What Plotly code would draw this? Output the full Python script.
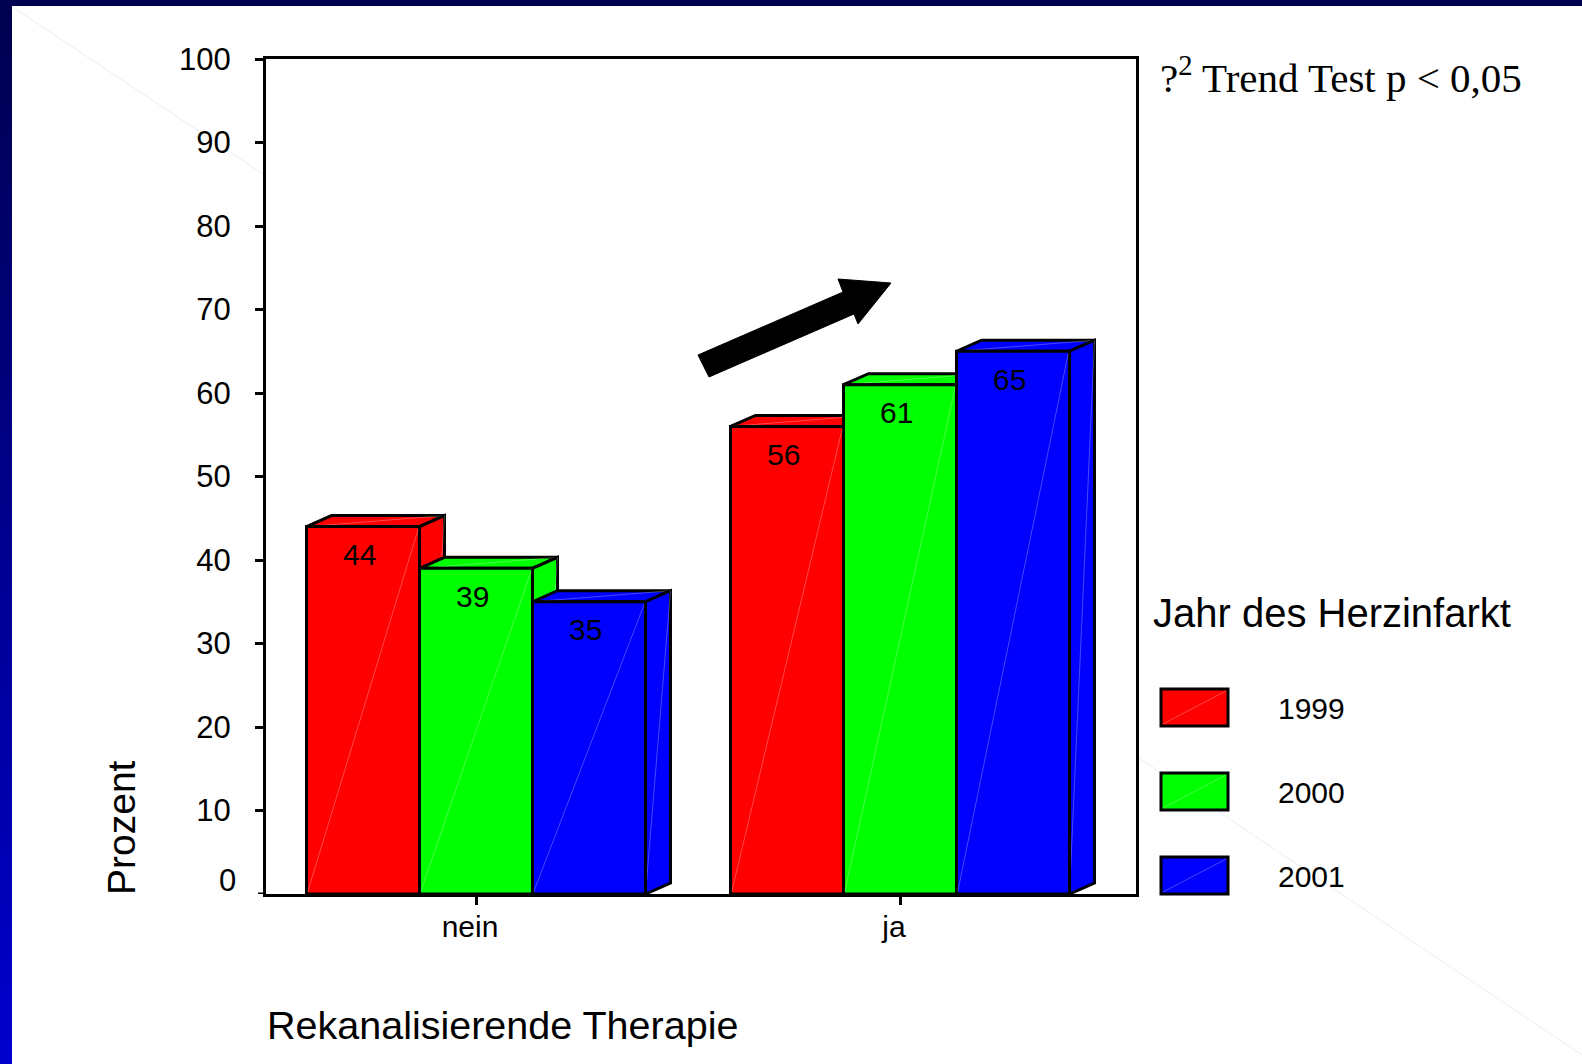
import plotly.graph_objects as go

# ---- data -------------------------------------------------------------
categories = ["nein", "ja"]
years = ["1999", "2000", "2001"]
values_1999 = [44, 56]
values_2000 = [39, 61]
values_2001 = [35, 65]
series = [values_1999, values_2000, values_2001]
colors = ["#ff0000", "#00ff00", "#0000ff"]
y_ticks = list(range(0, 101, 10))

x_title = "Rekanalisierende Therapie"
y_title = "Prozent"
legend_title = "Jahr des Herzinfarkt"
test_note = "?<sup>2</sup> Trend Test p &lt; 0,05"

# ---- page geometry (pixels) --------------------------------------------
W, H = 1582, 1064
ML, MR, MT, MB = 266, 446, 59, 170
PW = W - ML - MR
PH = H - MT - MB

X_RANGE = [-0.4953, 1.5566]
Y_RANGE = [0, 100]
px_per_x = PW / (X_RANGE[1] - X_RANGE[0])
px_per_y = PH / (Y_RANGE[1] - Y_RANGE[0])

BAR_W = 113 / px_per_x          # front face width
DEPTH_X = 25 / px_per_x         # oblique depth, horizontal part
DEPTH_Y = 11 / px_per_y         # oblique depth, vertical part

SANS = "Liberation Sans, Arial, sans-serif"
SERIF = "Liberation Serif, Times New Roman, serif"


def paper_x(px):
    return (px - ML) / PW


def paper_y(py):
    return (H - MB - py) / PH


def path(points):
    return "M " + " L ".join(f"{x},{y}" for x, y in points) + " Z"


fig = go.Figure()
shapes = []
annotations = []

SEAM = "rgba(255,255,255,0.28)"

# slide frame: dark blue band on top, blue gradient down the left side
steps = 40
for k in range(steps):
    t = k / (steps - 1)
    b = int(80 + t * (205 - 80))
    y0 = H * k / steps
    y1 = H * (k + 1) / steps + 1
    shapes.append(dict(type="rect", xref="paper", yref="paper",
                       x0=paper_x(0), x1=paper_x(12),
                       y0=paper_y(y1), y1=paper_y(y0),
                       fillcolor=f"rgb(0,0,{b})", line=dict(width=0),
                       layer="below"))
shapes.append(dict(type="rect", xref="paper", yref="paper",
                   x0=paper_x(0), x1=paper_x(W), y0=paper_y(6), y1=paper_y(0),
                   fillcolor="rgb(0,0,80)", line=dict(width=0), layer="below"))

# faint diagonal seam of the slide background
for (xa, ya, xb, yb) in [(13, 7, 266, 176), (1137, 757, W, 1055)]:
    shapes.append(dict(type="line", xref="paper", yref="paper",
                       x0=paper_x(xa), y0=paper_y(ya), x1=paper_x(xb), y1=paper_y(yb),
                       line=dict(color="rgba(190,190,215,0.3)", width=1),
                       layer="below"))

# ---- bars: front faces as bar traces, top/side faces as shapes ----------
for ci in range(len(categories)):
    for si, vals in enumerate(series):
        v = vals[ci]
        xl = ci - 1.5 * BAR_W + si * BAR_W
        xr = xl + BAR_W
        top = [(xl, v), (xl + DEPTH_X, v + DEPTH_Y),
               (xr + DEPTH_X, v + DEPTH_Y), (xr, v)]
        side = [(xr, 0), (xr + DEPTH_X, DEPTH_Y),
                (xr + DEPTH_X, v + DEPTH_Y), (xr, v)]
        for face, seam in [(top, (top[0], top[2])), (side, (side[0], side[2]))]:
            shapes.append(dict(type="path", xref="x", yref="y", path=path(face),
                               fillcolor=colors[si],
                               line=dict(color="black", width=3), layer="below"))
            shapes.append(dict(type="line", xref="x", yref="y",
                               x0=seam[0][0], y0=seam[0][1],
                               x1=seam[1][0], y1=seam[1][1],
                               line=dict(color=SEAM, width=1), layer="below"))
        # seam across the front face
        shapes.append(dict(type="line", xref="x", yref="y",
                           x0=xl + 0.003, y0=0.3, x1=xr - 0.003, y1=v - 0.3,
                           line=dict(color=SEAM, width=1), layer="above"))
        annotations.append(dict(x=(xl + xr) / 2, y=v, xref="x", yref="y",
                                text=str(v), showarrow=False, yshift=-28, xshift=-4,
                                font=dict(family=SANS, size=30, color="black")))

for si, vals in enumerate(series):
    fig.add_trace(go.Bar(
        x=list(range(len(categories))), y=vals, name=years[si],
        width=BAR_W, offset=-1.5 * BAR_W + si * BAR_W,
        marker=dict(color=colors[si], line=dict(color="black", width=3)),
        showlegend=False, hoverinfo="skip",
    ))

# ---- trend arrow -------------------------------------------------------
arrow_px = [(709, 377), (698, 355), (843, 292), (838, 279),
            (891, 283), (858, 324), (854, 314)]
shapes.append(dict(type="path", xref="paper", yref="paper",
                   path=path([(paper_x(x), paper_y(y)) for x, y in arrow_px]),
                   fillcolor="black", line=dict(color="black", width=1),
                   layer="above"))

# ---- legend drawn by hand: large swatches --------------------------------
box_tops = [689, 773, 857]
for si, year in enumerate(years):
    y0 = box_tops[si]
    y1 = y0 + 37
    shapes.append(dict(type="rect", xref="paper", yref="paper",
                       x0=paper_x(1161), x1=paper_x(1228),
                       y0=paper_y(y1), y1=paper_y(y0),
                       fillcolor=colors[si], line=dict(color="black", width=3)))
    shapes.append(dict(type="line", xref="paper", yref="paper",
                       x0=paper_x(1163), y0=paper_y(y1 - 2),
                       x1=paper_x(1226), y1=paper_y(y0 + 2),
                       line=dict(color=SEAM, width=1)))
    annotations.append(dict(x=paper_x(1276), y=paper_y((y0 + y1) / 2 + 1),
                            xref="paper", yref="paper", text=year,
                            showarrow=False, xanchor="left", yanchor="middle",
                            font=dict(family=SANS, size=30, color="black")))

annotations.append(dict(x=paper_x(1151), y=paper_y(613), xref="paper", yref="paper",
                        text=legend_title, showarrow=False,
                        xanchor="left", yanchor="middle",
                        font=dict(family=SANS, size=40, color="black")))

# ---- titles and note --------------------------------------------------------
annotations.append(dict(x=paper_x(502), y=paper_y(1025), xref="paper", yref="paper",
                        text=x_title, showarrow=False,
                        xanchor="center", yanchor="middle",
                        font=dict(family=SANS, size=39.5, color="black")))
annotations.append(dict(x=paper_x(121), y=paper_y(828), xref="paper", yref="paper",
                        text=y_title, showarrow=False, textangle=-90,
                        xanchor="center", yanchor="middle",
                        font=dict(family=SANS, size=39, color="black")))
annotations.append(dict(x=paper_x(1158), y=paper_y(75), xref="paper", yref="paper",
                        text=test_note, showarrow=False,
                        xanchor="left", yanchor="middle",
                        font=dict(family=SERIF, size=41, color="black")))

# the zero tick: its label sits slightly above the baseline, clear of the x axis
shapes.append(dict(type="line", xref="paper", yref="y",
                   x0=-8 / PW, x1=0, y0=y_ticks[0], y1=y_ticks[0],
                   line=dict(color="black", width=3)))
annotations.append(dict(x=0, y=y_ticks[0], xref="paper", yref="y",
                        text=str(y_ticks[0]),
                        showarrow=False, xanchor="right", yanchor="middle",
                        xshift=-28, yshift=14,
                        font=dict(family=SANS, size=31, color="black")))

fig.update_layout(
    width=W, height=H,
    margin=dict(l=ML, r=MR, t=MT, b=MB, pad=0),
    paper_bgcolor="white", plot_bgcolor="white",
    barmode="overlay",
    showlegend=False,
    shapes=shapes,
    annotations=annotations,
    xaxis=dict(range=X_RANGE, tickmode="array", tickvals=[0, 1], ticktext=categories,
               ticks="outside", ticklen=8, tickwidth=3, tickcolor="black",
               showline=True, linewidth=3, linecolor="black", mirror=True,
               showgrid=False, zeroline=False,
               ticklabelstandoff=-4, ticklabelshift=-6,
               tickfont=dict(family=SANS, size=30, color="black")),
    yaxis=dict(range=Y_RANGE, tickmode="array", tickvals=y_ticks[1:],
               ticks="outside", ticklen=8, tickwidth=3, tickcolor="black",
               showline=True, linewidth=3, linecolor="black", mirror=True,
               showgrid=False, zeroline=False, ticklabelstandoff=18,
               tickfont=dict(family=SANS, size=31, color="black")),
)

fig.write_html("out.html")
